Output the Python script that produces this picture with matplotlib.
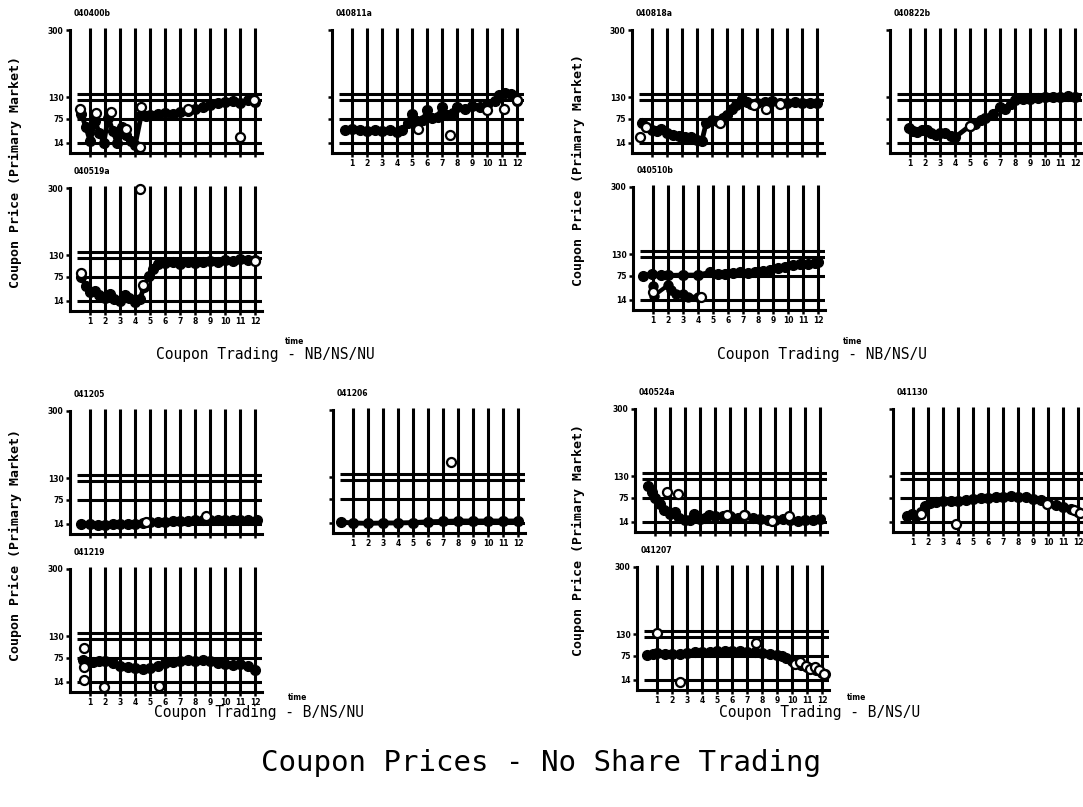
import numpy as np
import matplotlib.pyplot as plt

plt.rcParams['font.family'] = 'DejaVu Sans'

# ---- data ----
yticks = [14, 75, 130, 300]
xticks = list(range(1, 13))
ref_lines = [14, 75, 124, 137]

p1_name = '040400b'
p1_x = [0.4, 0.7, 1.0, 1.3, 1.6, 1.9, 2.2, 2.5, 2.8, 3.1, 3.4, 3.7, 4.0, 4.4, 4.7, 5.0, 5.5, 6.0, 6.5, 7.0, 7.5, 8.0, 8.5, 9.0, 9.5, 10.0, 10.5, 11.0, 11.5, 12.0]
p1_y = [88, 55, 18, 70, 40, 15, 78, 45, 14, 55, 35, 18, 10, 85, 82, 86, 88, 90, 88, 93, 96, 100, 105, 110, 115, 118, 120, 115, 122, 118]
p1_ox = [0.3, 1.35, 2.35, 3.4, 4.3, 4.35, 7.5, 11.0, 11.9]
p1_oy = [101, 90, 93, 50, 4, 106, 100, 29, 123]

p2_name = '040811a'
p2_x = [0.5, 1, 1.5, 2, 2.5, 3, 3.5, 4, 4.3, 4.7, 5, 5.3, 5.7, 6, 6.3, 6.7, 7, 7.3, 7.7, 8, 8.5, 9, 9.5, 10, 10.5, 10.8, 11.2, 11.6, 12]
p2_y = [48, 50, 47, 45, 48, 44, 46, 42, 48, 65, 88, 70, 72, 97, 78, 80, 106, 85, 90, 105, 100, 108, 104, 110, 120, 135, 140, 138, 120]
p2_ox = [5.4, 7.5, 10.0, 11.1, 12.0]
p2_oy = [50, 34, 97, 101, 123]

p3_name = '040519a'
p3_x = [0.4, 0.7, 1.0, 1.3, 1.6, 2.0, 2.3, 2.6, 3.0, 3.3, 3.6, 4.0, 4.3, 4.6, 4.9, 5.2, 5.5, 6, 6.5, 7, 7.5, 8, 8.5, 9, 9.5, 10, 10.5, 11, 11.5, 12]
p3_y = [75, 52, 36, 40, 28, 22, 32, 20, 15, 30, 22, 12, 18, 50, 78, 95, 108, 110, 112, 108, 113, 110, 112, 115, 113, 118, 116, 120, 118, 118]
p3_ox = [0.35, 4.3, 4.5, 12.0]
p3_oy = [85, 298, 55, 116]

p4_name = '040818a'
p4_x = [0.3, 0.6, 1.0, 1.3, 1.6, 2.0, 2.4, 2.8, 3.2, 3.6, 4.0, 4.3, 4.6, 5.0, 5.3, 5.7, 6.0, 6.3, 6.6, 7.0, 7.3, 7.6, 8.0, 8.5, 9, 9.5, 10, 10.5, 11, 11.5, 12]
p4_y = [65, 55, 48, 45, 50, 38, 35, 32, 30, 28, 22, 18, 65, 72, 70, 78, 85, 100, 110, 125, 118, 112, 115, 118, 120, 116, 114, 117, 115, 116, 115]
p4_ox = [0.2, 0.6, 5.5, 7.8, 8.6, 9.5]
p4_oy = [30, 55, 65, 110, 100, 112]

p5_name = '040822b'
p5_x = [0.9, 1.2, 1.45, 1.8, 2.1, 2.4, 2.7, 3.0, 3.3, 3.7, 4.0, 5.0, 5.3, 5.7, 6.0, 6.5, 7.0, 7.3, 7.7, 8.0, 8.5, 9, 9.5, 10, 10.5, 11, 11.5, 12]
p5_y = [52, 45, 42, 48, 46, 40, 34, 38, 38, 32, 29, 58, 62, 72, 78, 88, 105, 100, 112, 122, 125, 126, 128, 130, 131, 130, 132, 131]
p5_ox = [5.0]
p5_oy = [58]

p6_name = '040510b'
p6_x = [0.3, 0.9, 1.5, 2, 3, 4, 4.8, 5.3, 5.8, 6.3, 6.8, 7.3, 7.8, 8.3, 8.8, 9.3, 9.8, 10.3, 10.8, 11.3, 11.8, 12.0]
p6_y = [75, 80, 76, 76, 77, 77, 84, 80, 80, 82, 86, 83, 85, 88, 90, 95, 98, 102, 104, 105, 108, 110]
p6_lx = [1.0, 1.05, 2.0, 2.2, 2.5, 3.0, 3.3, 4.0]
p6_ly = [50, 25, 52, 40, 30, 30, 22, 22]
p6_ox = [1.0, 4.2]
p6_oy = [35, 22]

p7_name = '041205'
p7_x = [0.4, 1, 1.5, 2, 2.5, 3, 3.5, 4, 4.5, 5, 5.5, 6, 6.5, 7, 7.5, 8, 8.5, 9, 9.5, 10, 10.5, 11, 11.5, 12.1]
p7_y = [14, 13, 12, 12, 13, 13, 14, 15, 17, 18, 19, 20, 21, 22, 22, 23, 24, 23, 24, 24, 25, 24, 25, 24]
p7_ox = [4.7, 8.7]
p7_oy = [18, 35]

p8_name = '041206'
p8_x = [0.2, 1, 2, 3, 4, 5, 6, 7, 8, 9, 10, 11, 12]
p8_y = [16, 14, 13, 14, 14, 15, 17, 18, 19, 19, 19, 19, 19]
p8_ox = [7.5]
p8_oy = [168]

p9_name = '041219'
p9_x = [0.5, 0.8, 1.2, 1.6, 2, 2.5, 3, 3.5, 4, 4.5, 5, 5.5, 6, 6.5, 7, 7.5, 8, 8.5, 9, 9.5, 10, 10.5, 11, 11.5, 12]
p9_y = [70, 60, 65, 68, 66, 62, 55, 52, 50, 48, 50, 55, 62, 65, 68, 70, 68, 70, 66, 62, 60, 58, 60, 54, 45]
p9_ox = [0.55, 0.55, 0.6, 1.9, 5.6]
p9_oy = [100, 52, 18, 2, 5]

p10_name = '040524a'
p10_x = [0.5, 0.8, 1.0, 1.3, 1.6, 2.0, 2.3, 2.6, 3.0, 3.3, 3.6, 4.0, 4.3, 4.6, 5.0, 5.5, 6.0, 6.5, 7.0, 7.5, 8.0, 8.5, 9.0, 9.5, 10.0, 10.5, 11.0, 11.5, 12.0]
p10_y = [105, 90, 75, 60, 45, 35, 40, 25, 20, 18, 35, 22, 25, 32, 30, 28, 30, 25, 32, 25, 22, 20, 18, 22, 20, 16, 18, 20, 22]
p10_ox = [1.8, 2.5, 5.8, 6.9, 8.8, 9.9]
p10_oy = [90, 86, 32, 32, 16, 28]

p11_name = '041130'
p11_x = [0.6, 0.9, 1.2, 1.5, 1.8, 2.1, 2.5, 3, 3.5, 4, 4.5, 5, 5.5, 6, 6.5, 7, 7.5, 8, 8.5, 9, 9.5, 10, 10.5, 11, 11.5, 12]
p11_y = [28, 35, 30, 40, 55, 62, 65, 66, 68, 66, 70, 72, 75, 74, 78, 76, 80, 78, 76, 72, 70, 62, 58, 52, 48, 40]
p11_ox = [1.5, 3.85, 9.9, 11.7, 12.1]
p11_oy = [35, 8, 60, 45, 36]

p12_name = '041207'
p12_x = [0.3, 0.7, 1, 1.5, 2, 2.5, 3, 3.5, 4, 4.5, 5, 5.5, 6, 6.5, 7, 7.5, 8, 8.5, 9, 9.3, 9.6, 10, 10.3, 10.6, 11, 11.3, 11.6, 12, 12.2]
p12_y = [78, 80, 82, 80, 79, 80, 82, 84, 85, 86, 88, 87, 88, 88, 86, 85, 82, 80, 78, 75, 70, 62, 58, 52, 48, 44, 40, 32, 28]
p12_ox = [1.0, 2.5, 7.6, 10.2, 10.5, 10.9, 11.2, 11.5, 11.8, 12.1]
p12_oy = [134, 10, 108, 55, 60, 50, 42, 48, 38, 30]

group_titles = ['Coupon Trading - NB/NS/NU', 'Coupon Trading - NB/NS/U',
                'Coupon Trading - B/NS/NU', 'Coupon Trading - B/NS/U']
main_title = 'Coupon Prices - No Share Trading'
ylab = 'Coupon Price (Primary Market)'

# ---- figure ----
W, H = 1083, 807
fig = plt.figure(figsize=(W / 100, H / 100), dpi=100)

YMIN, YMAX = -12, 306
XMIN, XMAX = -0.35, 12.45
PX_Y = 0.395   # pixels per price unit
PX_X = 15      # pixels per period


def panel(x0, y300, name, fx, fy, ox, oy, ylabels=True, xlabels=True, lx=None, ly=None):
    top = y300 - (YMAX - 300) * PX_Y
    bot = y300 + (300 - YMIN) * PX_Y
    w = (XMAX - XMIN) * PX_X
    ax = fig.add_axes([x0 / W, 1 - bot / H, w / W, (bot - top) / H])
    ax.set_xlim(XMIN, XMAX)
    ax.set_ylim(YMIN, YMAX)
    for s in ['top', 'right']:
        ax.spines[s].set_visible(False)
    ax.spines['left'].set_bounds(YMIN, 300)
    ax.spines['left'].set_linewidth(2.2)
    ax.spines['bottom'].set_linewidth(2.2)

    ax.vlines(xticks, YMIN, YMAX, color='black', lw=2.2, zorder=1)
    ax.hlines(ref_lines, 0.1, XMAX, color='black', lw=2.2, zorder=1)

    ax.plot(fx, fy, color='black', lw=3.5, marker='o', ms=7, zorder=3, clip_on=False)
    if lx is not None:
        ax.plot(lx, ly, color='black', lw=3, marker='o', ms=6.5, zorder=3)
    ax.plot(ox, oy, ls='none', marker='o', ms=6.5, mfc='white', mec='black', mew=1.6,
            zorder=4, clip_on=False)

    ax.set_yticks(yticks)
    ax.set_xticks(xticks)
    ax.set_yticklabels([str(v) for v in yticks] if ylabels else [])
    ax.set_xticklabels([str(v) for v in xticks] if xlabels else [])
    ax.tick_params(direction='out', length=3, width=1.8, pad=1.5,
                   labelsize=5.5)
    for lab in ax.get_xticklabels() + ax.get_yticklabels():
        lab.set_fontweight('bold')
    ax.text(0.02, 1.08, name, transform=ax.transAxes, fontsize=5.5,
            fontweight='bold', va='bottom', ha='left')
    return ax


# top-left group
panel(70, 30, p1_name, p1_x, p1_y, p1_ox, p1_oy, True, False)
panel(332, 30, p2_name, p2_x, p2_y, p2_ox, p2_oy, False, True)
panel(70, 188, p3_name, p3_x, p3_y, p3_ox, p3_oy, True, True)
# top-right group
panel(632, 30, p4_name, p4_x, p4_y, p4_ox, p4_oy, True, False)
panel(890, 30, p5_name, p5_x, p5_y, p5_ox, p5_oy, False, True)
panel(633, 187, p6_name, p6_x, p6_y, p6_ox, p6_oy, True, True, p6_lx, p6_ly)
# bottom-left group
panel(70, 411, p7_name, p7_x, p7_y, p7_ox, p7_oy, True, False)
panel(333, 410, p8_name, p8_x, p8_y, p8_ox, p8_oy, False, True)
panel(70, 569, p9_name, p9_x, p9_y, p9_ox, p9_oy, True, True)
# bottom-right group
panel(635, 409, p10_name, p10_x, p10_y, p10_ox, p10_oy, True, False)
panel(893, 409, p11_name, p11_x, p11_y, p11_ox, p11_oy, False, True)
panel(637, 567, p12_name, p12_x, p12_y, p12_ox, p12_oy, True, True)

mono = 'DejaVu Sans Mono'
# group captions
for (tx, ty), (cx, cy), t in zip([(295, 341), (853, 341), (298, 697), (857, 697)],
                                 [(265, 354), (822, 354), (259, 713), (820, 713)],
                                 group_titles):
    fig.text(tx / W, 1 - ty / H, 'time', fontsize=5.5, fontweight='bold',
             ha='center', va='center')
    fig.text(cx / W, 1 - cy / H, t, family=mono, fontsize=10.5,
             ha='center', va='center')

# y labels
for (lx_, ly_) in [(15, 172), (578, 170), (15, 545), (578, 540)]:
    fig.text(lx_ / W, 1 - ly_ / H, ylab, family=mono, fontsize=9.5,
             fontweight='bold', rotation=90, ha='center', va='center')

fig.text(541 / W, 1 - 763 / H, main_title, family=mono, fontsize=21,
         ha='center', va='center')

plt.savefig('out.png', dpi=100)
